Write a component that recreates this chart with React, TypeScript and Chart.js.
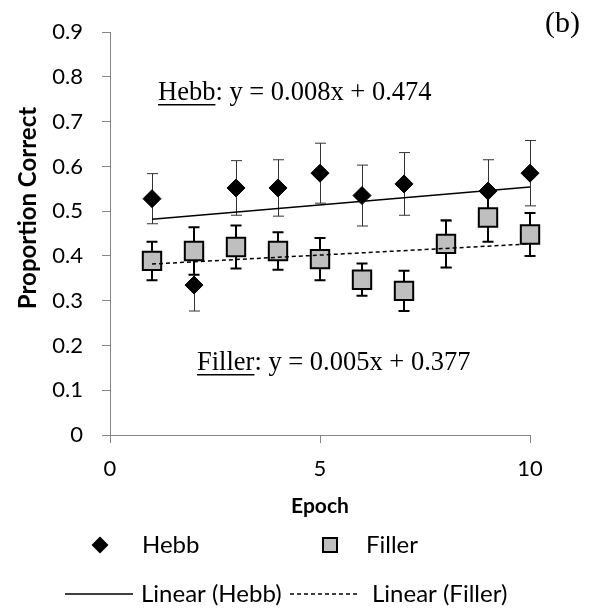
import React, { useEffect, useRef } from "react";
import { Chart, registerables } from "chart.js";

Chart.register(...registerables);

// ---- data ----
const epochs = [1, 2, 3, 4, 5, 6, 7, 8, 9, 10];
const hebbMean = [0.528, 0.335, 0.552, 0.552, 0.585, 0.535, 0.561, 0.426, 0.545, 0.585];
const hebbErr = [0.056, 0.058, 0.061, 0.063, 0.067, 0.068, 0.07, 0.052, 0.07, 0.073];
const fillerMean = [0.389, 0.411, 0.42, 0.411, 0.393, 0.347, 0.322, 0.427, 0.486, 0.448];
const fillerErr = [0.043, 0.053, 0.048, 0.042, 0.047, 0.036, 0.045, 0.053, 0.054, 0.048];
const trendX = [1, 10];
const hebbTrend = [0.482, 0.554];
const fillerTrend = [0.382, 0.427];
const xTickValues = [0, 5, 10];
const yTickLabels = ["0", "0.1", "0.2", "0.3", "0.4", "0.5", "0.6", "0.7", "0.8", "0.9"];
const hebbEquation = ["Hebb", ": y = 0.008x + 0.474"];
const fillerEquation = ["Filler", ": y = 0.005x + 0.377"];
const panelLabel = "(b)";
const legendLabels = ["Hebb", "Filler", "Linear (Hebb)", "Linear (Filler)"];
const xTitle = "Epoch";
const yTitle = "Proportion Correct";

const AXIS_GREY = "#868686";
const FILL_GREY = "#BFBFBF";
const SANS = "Lato, 'Open Sans', sans-serif";
const SERIF = "'Liberation Serif', 'Times New Roman', serif";

const errorBarPlugin = {
  id: "errorBars",
  beforeDatasetsDraw(chart: any) {
    const { ctx, scales } = chart;
    const xs = scales.x;
    const ys = scales.y;
    const series = [
      { mean: hebbMean, err: hebbErr, width: 1, color: "#333333" },
      { mean: fillerMean, err: fillerErr, width: 2, color: "#000000" },
    ];
    ctx.save();
    for (const s of series) {
      ctx.strokeStyle = s.color;
      ctx.lineWidth = s.width;
      for (let i = 0; i < epochs.length; i++) {
        const m = s.mean[i];
        if (m == null) continue;
        const px = Math.round(xs.getPixelForValue(epochs[i])) + (s.width === 1 ? 0.5 : 0);
        const top = ys.getPixelForValue(m + s.err[i]);
        const bot = ys.getPixelForValue(m - s.err[i]);
        ctx.beginPath();
        ctx.moveTo(px, top);
        ctx.lineTo(px, bot);
        ctx.moveTo(px - 5.5, top);
        ctx.lineTo(px + 5.5, top);
        ctx.moveTo(px - 5.5, bot);
        ctx.lineTo(px + 5.5, bot);
        ctx.stroke();
      }
    }
    ctx.restore();
  },
};

function underlinedText(ctx: any, parts: string[], x: number, y: number) {
  ctx.fillText(parts[0], x, y);
  const w0 = ctx.measureText(parts[0]).width;
  ctx.fillText(parts[1], x + w0, y);
  ctx.fillRect(x, y + 4, w0, 1.5);
}

const annotationPlugin = {
  id: "annotations",
  afterDraw(chart: any) {
    const { ctx } = chart;
    ctx.save();
    ctx.fillStyle = "#000";
    ctx.textBaseline = "alphabetic";
    ctx.textAlign = "left";
    ctx.font = `26.5px ${SERIF}`;
    underlinedText(ctx, hebbEquation, 158, 100);
    underlinedText(ctx, fillerEquation, 197, 370);
    ctx.font = `30px ${SERIF}`;
    ctx.textAlign = "right";
    ctx.fillText(panelLabel, 580, 32);

    // y-axis title
    ctx.save();
    ctx.translate(28, 208);
    ctx.rotate(-Math.PI / 2);
    ctx.textAlign = "center";
    ctx.textBaseline = "middle";
    ctx.font = `bold 24px ${SANS}`;
    ctx.fillText(yTitle, 0, 0);
    ctx.restore();

    // legend
    ctx.textAlign = "left";
    ctx.textBaseline = "middle";
    ctx.font = `24px ${SANS}`;
    const row1 = 545;
    const row2 = 594;
    // Hebb diamond
    ctx.beginPath();
    ctx.moveTo(100, row1 - 8.5);
    ctx.lineTo(108.5, row1);
    ctx.lineTo(100, row1 + 8.5);
    ctx.lineTo(91.5, row1);
    ctx.closePath();
    ctx.fillStyle = "#000";
    ctx.fill();
    ctx.fillText(legendLabels[0], 142, row1);
    // Filler square
    ctx.fillStyle = FILL_GREY;
    ctx.fillRect(323, row1 - 7, 14, 14);
    ctx.strokeStyle = "#000";
    ctx.lineWidth = 2;
    ctx.strokeRect(323, row1 - 7, 14, 14);
    ctx.fillStyle = "#000";
    ctx.fillText(legendLabels[1], 366, row1);
    // linear hebb
    ctx.lineWidth = 1.5;
    ctx.beginPath();
    ctx.moveTo(65, row2);
    ctx.lineTo(133, row2);
    ctx.stroke();
    ctx.fillText(legendLabels[2], 141, row2);
    // linear filler
    ctx.setLineDash([4, 3]);
    ctx.beginPath();
    ctx.moveTo(290, row2);
    ctx.lineTo(358, row2);
    ctx.stroke();
    ctx.setLineDash([]);
    ctx.fillText(legendLabels[3], 372, row2);
    ctx.restore();
  },
};

export default function App() {
  const canvasRef = useRef<HTMLCanvasElement | null>(null);

  useEffect(() => {
    const canvas = canvasRef.current;
    if (!canvas) return;
    const chart = new Chart(canvas, {
      type: "scatter",
      data: {
        datasets: [
          {
            label: legendLabels[0],
            data: epochs.map((e, i) => ({ x: e, y: hebbMean[i] })),
            pointStyle: "rectRot",
            pointRadius: 9,
            backgroundColor: "#000",
            borderColor: "#000",
            borderWidth: 1,
            clip: false,
            order: 4,
          },
          {
            label: legendLabels[1],
            data: epochs.map((e, i) => ({ x: e, y: fillerMean[i] })),
            pointStyle: "rect",
            pointRadius: 13,
            backgroundColor: FILL_GREY,
            borderColor: "#000",
            borderWidth: 2,
            clip: false,
            order: 3,
          },
          {
            label: legendLabels[2],
            data: trendX.map((x, i) => ({ x, y: hebbTrend[i] })),
            showLine: true,
            pointRadius: 0,
            borderColor: "#000",
            borderWidth: 1.5,
            clip: false,
            order: 2,
          },
          {
            label: legendLabels[3],
            data: trendX.map((x, i) => ({ x, y: fillerTrend[i] })),
            showLine: true,
            pointRadius: 0,
            borderColor: "#000",
            borderWidth: 1.5,
            borderDash: [4, 3],
            clip: false,
            order: 1,
          },
        ],
      },
      options: {
        responsive: false,
        animation: false,
        events: [],
        layout: { padding: { left: 0, top: 23, right: 61, bottom: 88 } },
        plugins: {
          legend: { display: false },
          tooltip: { enabled: false },
        },
        scales: {
          x: {
            type: "linear",
            min: 0,
            max: 10,
            afterFit(scale: any) {
              scale.height = 90;
            },
            afterBuildTicks(scale: any) {
              scale.ticks = xTickValues.map((v) => ({ value: v }));
            },
            grid: { drawOnChartArea: false, color: AXIS_GREY, tickLength: 8 },
            border: { color: AXIS_GREY, width: 1 },
            ticks: {
              color: "#000",
              font: { family: SANS, size: 22 },
              padding: 13,
              maxRotation: 0,
            },
            title: {
              display: true,
              text: xTitle,
              color: "#000",
              font: { family: SANS, size: 21, weight: "bold" },
              padding: { top: 0, bottom: 6 },
            },
          },
          y: {
            type: "linear",
            min: 0,
            max: 0.9,
            afterFit(scale: any) {
              scale.width = 110;
            },
            afterBuildTicks(scale: any) {
              scale.ticks = yTickLabels.map((_, i) => ({ value: i / 10 }));
            },
            grid: { drawOnChartArea: false, color: AXIS_GREY, tickLength: 8 },
            border: { color: AXIS_GREY, width: 1 },
            ticks: {
              color: "#000",
              font: { family: SANS, size: 22 },
              padding: 19,
              callback: (_v: any, i: number) => yTickLabels[i],
            },
            title: { display: false },
          },
        },
      },
      plugins: [errorBarPlugin, annotationPlugin],
    } as any);
    return () => chart.destroy();
  }, []);

  return (
    <div style={{ position: "absolute", left: 0, top: 0, width: 591, height: 613, background: "#fff" }}>
      <canvas ref={canvasRef} width={591} height={613} style={{ display: "block", width: 591, height: 613 }} />
    </div>
  );
}
